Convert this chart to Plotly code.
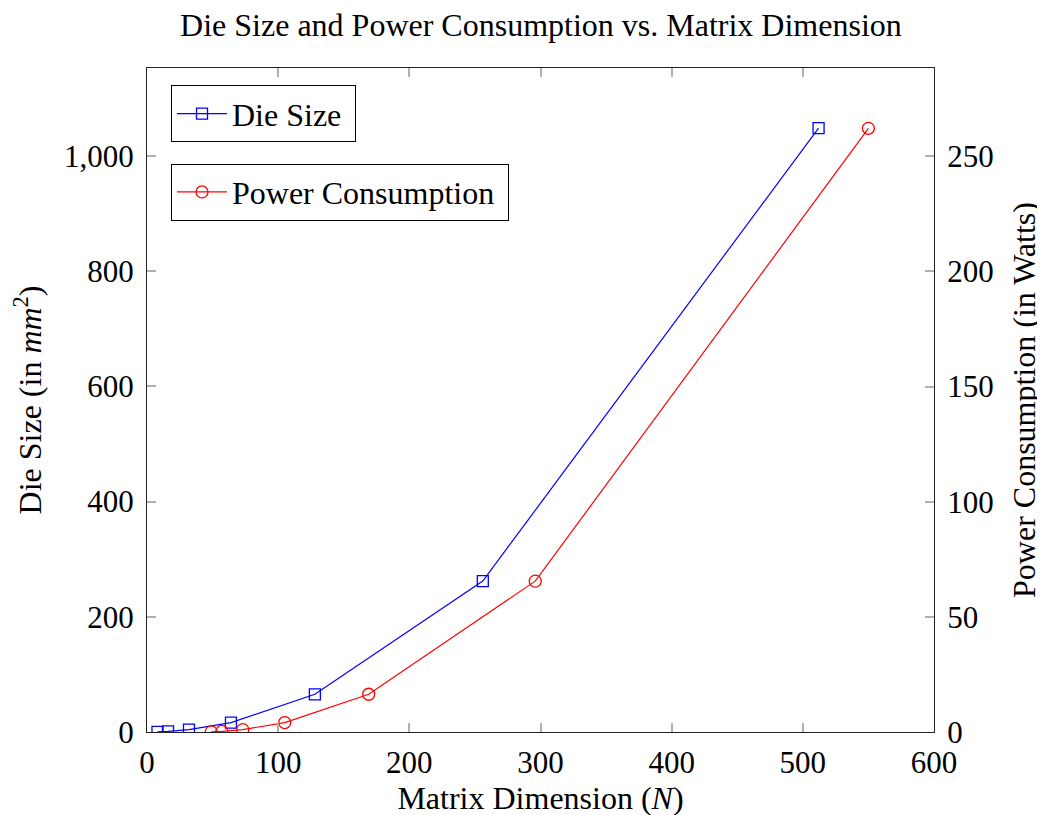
import plotly.graph_objects as go

die_x = [8, 16, 32, 64, 128, 256, 512]
die_y = [0.256, 1.02, 4.1, 16.4, 65.5, 262.1, 1048.6]
pow_x = [49, 57, 73, 105, 169, 296, 550]
pow_y = [0.064, 0.256, 1.02, 4.1, 16.4, 65.5, 262.1]

x_ticks = [0, 100, 200, 300, 400, 500, 600]
y_ticks = [0, 200, 400, 600, 800, 1000]
y2_ticks = [0, 50, 100, 150, 200, 250]

FONT = "Liberation Serif, Times New Roman, serif"

fig = go.Figure()
fig.add_trace(go.Scatter(
    x=die_x, y=die_y, name="Die Size\u00a0", mode="lines+markers",
    line=dict(color="blue", width=1.2),
    marker=dict(symbol="square-open", size=11, color="blue", line=dict(width=1.3)),
    legend="legend", yaxis="y"))
fig.add_trace(go.Scatter(
    x=pow_x, y=pow_y, name="Power Consumption\u00a0", mode="lines+markers",
    line=dict(color="red", width=1.2),
    marker=dict(symbol="circle-open", size=12, color="red", line=dict(width=1.3)),
    legend="legend2", yaxis="y2"))

axis_common = dict(
    ticks="inside", ticklen=9, tickcolor="#b0b0b0", tickwidth=1.5,
    showgrid=False, zeroline=False, showline=True, linecolor="#222", linewidth=1.3,
    tickfont=dict(family=FONT, size=31, color="black"),
    automargin=False,
)

fig.update_layout(
    width=1045, height=815,
    margin=dict(l=139, r=119, t=60, b=91),
    paper_bgcolor="white", plot_bgcolor="white",
    font=dict(family=FONT, color="black"),
    title=dict(text="Die Size and Power Consumption vs. Matrix Dimension",
               x=0.51, xanchor="center", y=0.979, yanchor="middle",
               font=dict(family=FONT, size=32, color="black")),
    xaxis=dict(range=[0, 600], tickvals=x_ticks, mirror="ticks", ticklabelstandoff=3,
               title=dict(text="Matrix Dimension (<i>N</i>)", standoff=7,
                          font=dict(family=FONT, size=32)),
               **axis_common),
    yaxis=dict(range=[0, 1153], tickvals=y_ticks, tickformat=",", ticklabelstandoff=6,
               title=dict(text="Die Size (in <i>mm</i><sup>2</sup>)", standoff=18,
                          font=dict(family=FONT, size=32)),
               **axis_common),
    yaxis2=dict(range=[0, 288.3], tickvals=y2_ticks, overlaying="y", side="right",
                ticklabelstandoff=6,
                title=dict(text="Power Consumption (in Watts)", standoff=19,
                           font=dict(family=FONT, size=32)),
                **axis_common),
    legend=dict(x=0.0305, y=0.974, xanchor="left", yanchor="top",
                bordercolor="black", borderwidth=1, bgcolor="white",
                font=dict(family=FONT, size=32), itemwidth=50,
                tracegroupgap=0),
    legend2=dict(x=0.0305, y=0.856, xanchor="left", yanchor="top",
                 bordercolor="black", borderwidth=1, bgcolor="white",
                 font=dict(family=FONT, size=32), itemwidth=50,
                 tracegroupgap=0),
    showlegend=True,
)

fig.write_html("out.html")
